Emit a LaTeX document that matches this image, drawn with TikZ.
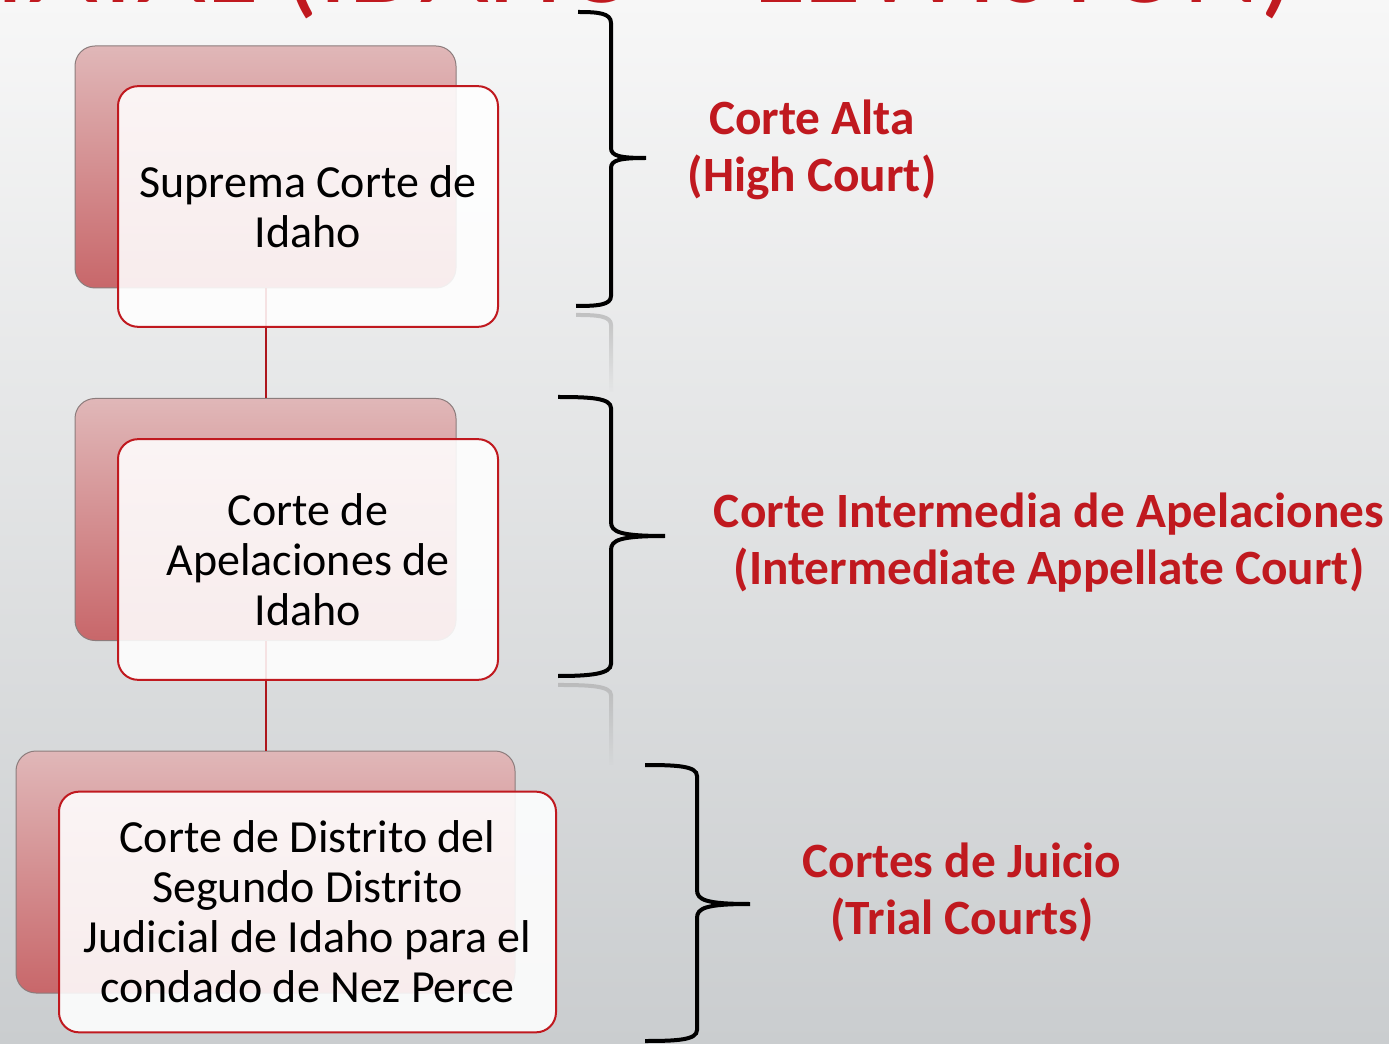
\documentclass[tikz,border=0pt]{standalone}
\usepackage{fontspec}
\setmainfont{Carlito}
\usetikzlibrary{fadings}
\definecolor{cred}{HTML}{C0191F}
\definecolor{bgtop}{HTML}{F7F7F7}
\definecolor{bgmid}{HTML}{E9EAEB}
\definecolor{bgbot}{HTML}{CACDCF}
\definecolor{pinktop}{HTML}{E0B7B8}
\definecolor{pinkmid}{HTML}{DBABAD}
\definecolor{pinkbot}{HTML}{C8676A}
\definecolor{backedge}{HTML}{8C7C7C}
\tikzfading[name=fadedown, top color=transparent!0, bottom color=transparent!100]
\tikzset{
  backbox/.style={rectangle, rounded corners=15pt, draw=backedge, line width=0.75pt,
    top color=pinktop, middle color=pinkmid, bottom color=pinkbot,
    minimum width=#1*0.75pt, minimum height=181.5pt, inner sep=0pt},
  frontbox/.style={rectangle, rounded corners=15pt, draw=cred, line width=1.5pt,
    fill=white, fill opacity=0.88, text opacity=1, text=black, align=center,
    minimum width=#1*0.75pt, minimum height=180.5pt, inner sep=0pt,
    font=\fontsize{34.5pt}{37.5pt}\selectfont},
  link/.style={draw=cred!90!black, line width=1.5pt},
  bracestyle/.style={draw=black, line width=3pt},
  reflect/.style={draw=gray!70, line width=3pt, opacity=0.6, path fading=fadedown},
  levellabel/.style={text=cred, align=center, inner sep=0pt,
    font=\bfseries\fontsize{37pt}{42.75pt}\selectfont},
}
\begin{document}
\begin{tikzpicture}[x=0.75pt,y=-0.75pt]
\clip (0,0) rectangle (1389,1044);
\fill[top color=bgtop, middle color=bgmid, bottom color=bgbot] (0,0) rectangle (1389,1044);

% partially visible title
\node[anchor=base east, text=cred, inner sep=0pt, font=\fontsize{89pt}{92pt}\selectfont] (title) at (1297,3) {ESTATAL (IDAHO – LEWISTON)};

% back boxes
\node[backbox=381] (back1) at (265.5,167) {};
\node[backbox=381] (back2) at (265.5,519.5) {};
\node[backbox=499] (back3) at (265.5,872) {};

% connectors
\draw[link] (back1.south) -- (back2.north);
\draw[link] (back2.south) -- (back3.north);

% front boxes
\node[frontbox=380] (front1) at (308,206.5) {Suprema Corte de\\Idaho};
\node[frontbox=380] (front2) at (308,559.5) {Corte de\\Apelaciones de\\Idaho};
\node[frontbox=497] (front3) at (307.5,912) {Corte de Distrito del\\Segundo Distrito\\Judicial de Idaho para el\\condado de Nez Perce};

% braces
\draw[bracestyle] (576,306) .. controls (598,306) and (611,305) .. (611,296) -- (611,168)
  .. controls (611,160) and (620,158) .. (646,158)
  .. controls (620,158) and (611,156) .. (611,148) -- (611,23)
  .. controls (611,13) and (598,12) .. (578,12);
\draw[bracestyle] (558,397) .. controls (590,397) and (611,398) .. (611,408) -- (611,522)
  .. controls (611,532) and (620,536) .. (665,536)
  .. controls (620,536) and (611,540) .. (611,550) -- (611,664)
  .. controls (611,674) and (590,676) .. (558,676);
\draw[bracestyle] (645,765) .. controls (677,765) and (697,766) .. (697,776) -- (697,890)
  .. controls (697,900) and (706,904) .. (750,904)
  .. controls (706,904) and (697,908) .. (697,918) -- (697,1030)
  .. controls (697,1040) and (677,1041) .. (645,1041);

% reflections of the braces
\draw[reflect] (576,315) .. controls (598,315) and (611,316) .. (611,325) -- (611,392);
\draw[reflect] (558,685) .. controls (590,685) and (611,686) .. (611,695) -- (611,765);

% level labels
\node[levellabel] (lab1) at (812,149.5) {Corte Alta\\(High Court)};
\node[levellabel] (lab2) at (1049,543) {Corte Intermedia de Apelaciones\\(Intermediate Appellate Court)};
\node[levellabel] (lab3) at (962,892.5) {Cortes de Juicio\\(Trial Courts)};
\end{tikzpicture}
\end{document}
